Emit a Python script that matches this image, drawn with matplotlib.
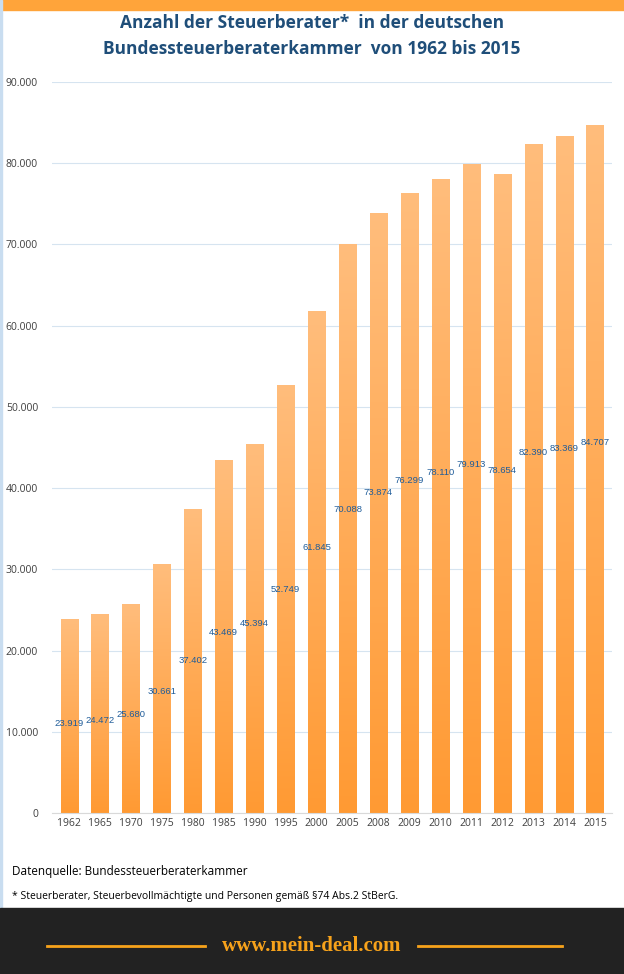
import numpy as np
import matplotlib.pyplot as plt
from matplotlib.colors import LinearSegmentedColormap

plt.rcParams["font.family"] = "Open Sans"

YEARS = ["1962", "1965", "1970", "1975", "1980", "1985", "1990", "1995", "2000",
         "2005", "2008", "2009", "2010", "2011", "2012", "2013", "2014", "2015"]
COUNTS = [23919, 24472, 25680, 30661, 37402, 43469, 45394, 52749, 61845,
          70088, 73874, 76299, 78110, 79913, 78654, 82390, 83369, 84707]
LABELS = ["23.919", "24.472", "25.680", "30.661", "37.402", "43.469", "45.394",
          "52.749", "61.845", "70.088", "73.874", "76.299", "78.110", "79.913",
          "78.654", "82.390", "83.369", "84.707"]
YTICKS = [0, 10000, 20000, 30000, 40000, 50000, 60000, 70000, 80000, 90000]
YTICK_LABELS = ["0", "10.000", "20.000", "30.000", "40.000", "50.000",
                "60.000", "70.000", "80.000", "90.000"]

W, H = 624, 974
fig = plt.figure(figsize=(W / 100, H / 100), dpi=100)
fig.patch.set_facecolor("white")

# top orange strip, left border and dark footer
fig.add_artist(plt.Rectangle((0, 1 - 10 / H), 1, 10 / H, color="#FFA43A", transform=fig.transFigure))
fig.add_artist(plt.Rectangle((0, 0), 2 / W, 1, color="#C9DDF0", transform=fig.transFigure))
fig.add_artist(plt.Rectangle((0, 0), 1, 66 / H, color="#222222", transform=fig.transFigure))

fig.text(0.5, 1 - 23 / H, "Anzahl der Steuerberater*  in der deutschen", ha="center", va="center",
         fontsize=12.5, fontweight="bold", color="#1F4E79")
fig.text(0.5, 1 - 49 / H, "Bundessteuerberaterkammer  von 1962 bis 2015", ha="center", va="center",
         fontsize=12.5, fontweight="bold", color="#1F4E79")

ax = fig.add_axes([52 / W, (H - 813) / H, (612 - 52) / W, (813 - 82) / H])
x = np.arange(len(YEARS))
bars = ax.bar(x, COUNTS, width=0.55, color="none", zorder=2)

cmap = LinearSegmentedColormap.from_list("og", ["#FF9A33", "#FFBD7C"])
grad = np.linspace(0, 1, 256).reshape(-1, 1)
for b in bars:
    im = ax.imshow(grad, cmap=cmap, origin="lower", aspect="auto",
                   extent=[b.get_x(), b.get_x() + b.get_width(), 0, b.get_height()], zorder=2)
    im.set_clip_path(b)

for xi, v, lab in zip(x, COUNTS, LABELS):
    ax.text(xi, 0.569 * v - 2530, lab, ha="center", va="center", fontsize=6.8,
            color="#1F5C99", zorder=3, family="Liberation Sans")

ax.set_xlim(-0.55, len(YEARS) - 0.45)
ax.set_ylim(0, 90000)
ax.set_yticks(YTICKS)
ax.set_yticklabels(YTICK_LABELS)
ax.set_xticks(x)
ax.set_xticklabels(YEARS)
ax.tick_params(length=0, labelsize=7.5, colors="#404040")
ax.tick_params(axis="y", pad=10)
ax.grid(axis="y", color="#D6E4F0", linewidth=0.8, zorder=0)
for s in ["top", "right", "left"]:
    ax.spines[s].set_visible(False)
ax.spines["bottom"].set_color("#D9D9D9")

fig.text(12 / W, 1 - 872 / H, "Datenquelle: Bundessteuerberaterkammer", ha="left", va="center",
         fontsize=8.5, color="black")
fig.text(12 / W, 1 - 897 / H, "* Steuerberater, Steuerbevollmächtigte und Personen gemäß §74 Abs.2 StBerG.",
         ha="left", va="center", fontsize=7.5, color="black")

fig.text(0.5, 1 - 946 / H, "www.mein-deal.com", ha="center", va="center", fontsize=15,
         fontweight="bold", color="#F7A21B", family="Liberation Serif")
fig.add_artist(plt.Line2D([47 / W, 205 / W], [1 - 946 / H] * 2, color="#F7A21B", lw=2))
fig.add_artist(plt.Line2D([418 / W, 562 / W], [1 - 946 / H] * 2, color="#F7A21B", lw=2))

fig.savefig("out.png", dpi=100)
